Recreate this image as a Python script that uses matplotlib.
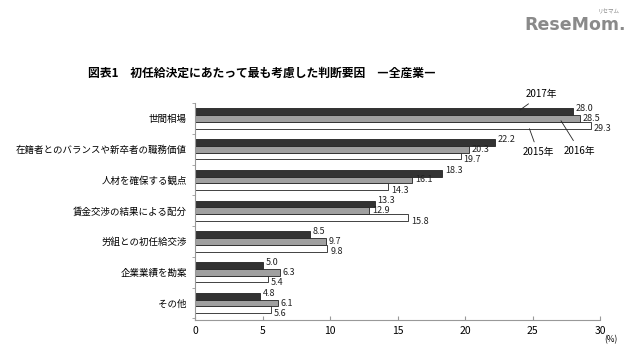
import numpy as np
import matplotlib.pyplot as plt

plt.rcParams['font.family'] = ['Noto Sans CJK JP', 'DejaVu Sans']

categories = ['世間相場', '在籍者とのバランスや新卒者の職務価値', '人材を確保する観点',
              '賃金交渉の結果による配分', '労組との初任給交渉', '企業業績を勘案', 'その他']
years = ['2017年', '2016年', '2015年']
v2017 = [28.0, 22.2, 18.3, 13.3, 8.5, 5.0, 4.8]
v2016 = [28.5, 20.3, 16.1, 12.9, 9.7, 6.3, 6.1]
v2015 = [29.3, 19.7, 14.3, 15.8, 9.8, 5.4, 5.6]

fig = plt.figure(figsize=(6.4, 3.54), dpi=100)
ax = fig.add_axes([0.305, 0.096, 0.6325, 0.613])

y = np.arange(len(categories))
h = 0.22
series = [v2017, v2016, v2015]
faces = ['#333333', '#a0a0a0', 'white']
label_shift = [-0.1, 0.0, 0.12]
for i, (vals, fc) in enumerate(zip(series, faces)):
    pos = y + (i - 1) * h
    ax.barh(pos, vals, height=h, color=fc, edgecolor='#222222', linewidth=0.6)
    for p, v in zip(pos, vals):
        ax.text(v + 0.2, p + label_shift[i], f'{v:.1f}', fontsize=6.5, va='center', ha='left',
                color='#222222')

ax.set_xlim(0, 30)
ax.set_ylim(6.55, -0.45)
ax.set_xticks([0, 5, 10, 15, 20, 25, 30])
ax.set_xticklabels(['0', '5', '10', '15', '20', '25', '30'], fontsize=7.5)
ax.set_yticks(y)
ax.set_yticklabels(categories, fontsize=6.8)
ax.tick_params(axis='y', length=0, pad=6)
ax.set_yticks(np.arange(-0.5, 7, 1), minor=True)
ax.tick_params(axis='y', which='minor', length=2, color='#999999')
ax.tick_params(axis='x', length=3, color='#999999', direction='in', pad=4)
for s in ['top', 'right']:
    ax.spines[s].set_visible(False)
ax.spines['left'].set_color('#999999')
ax.spines['bottom'].set_color('#999999')

# leader lines for year labels
ax.annotate('2017年', xy=(23.9, -0.22), xytext=(24.5, -0.78), fontsize=7,
            ha='left', va='center', arrowprops=dict(arrowstyle='-', color='#222222', lw=0.6))
ax.annotate('2016年', xy=(27.0, 0.0), xytext=(28.5, 1.05), fontsize=7,
            ha='center', va='center', arrowprops=dict(arrowstyle='-', color='#222222', lw=0.6))
ax.annotate('2015年', xy=(24.7, 0.25), xytext=(25.4, 1.1), fontsize=7,
            ha='center', va='center', arrowprops=dict(arrowstyle='-', color='#222222', lw=0.6))

ax.text(30.3, 7.18, '(%)', fontsize=6, ha='left', va='center')

fig.text(88 / 640, 1 - 73 / 354, '図表1　初任給決定にあたって最も考慮した判断要因　―全産業―',
         fontsize=8.5, fontweight='bold', ha='left', va='center')

fig.text(626 / 640, 1 - 25 / 354, 'ReseMom.', fontsize=12.5, fontweight='bold',
         color='#8a8a8a', ha='right', va='center', family='DejaVu Sans')
fig.text(620 / 640, 1 - 12 / 354, 'リセマム', fontsize=4, color='#8a8a8a', ha='right', va='center')

plt.savefig('out.png', dpi=100)
